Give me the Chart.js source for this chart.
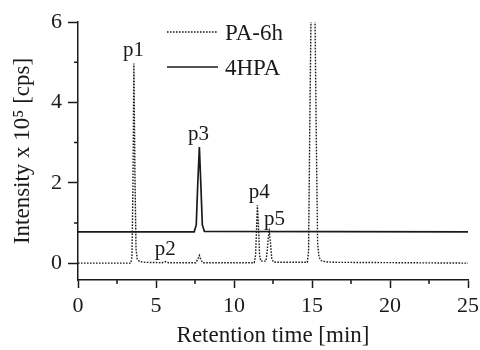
<!DOCTYPE html>
<html>
<head>
<meta charset="utf-8">
<script src="https://cdn.jsdelivr.net/npm/chart.js@4/dist/chart.umd.min.js"></script>
<style>
    body { margin: 0; background: #fff; }
    canvas { display: block; }
</style>
</head>
<body>
<canvas id="chromChart" width="480" height="350"></canvas>
<script>
// PA-6h trace (dotted)
let paTime = [0, 3.38, 3.46, 3.52, 3.58, 3.65, 3.72, 3.8, 3.95, 4.3, 5.4, 5.6, 5.8, 7.55, 7.68, 7.78, 7.88, 8.0,
    11.3, 11.38, 11.45, 11.5, 11.57, 11.64, 11.72, 12.05, 12.13, 12.2, 12.26, 12.34, 12.42, 12.52, 12.7,
    14.7, 14.78, 14.86, 14.95, 15.18, 15.28, 15.36, 15.45, 15.6, 15.9, 16.5, 25];
let paIntensity = [0, 0, 0.15, 1.8, 4.97, 2.2, 0.35, 0.1, 0.04, 0.02, 0.01, 0.04, 0.01, 0.01, 0.1, 0.19, 0.08, 0.01,
    0.01, 0.2, 0.9, 1.44, 0.9, 0.2, 0.05, 0.05, 0.3, 0.65, 0.78, 0.5, 0.12, 0.03, 0.02,
    0.02, 0.3, 3.5, 6.6, 6.6, 3.0, 0.5, 0.15, 0.06, 0.03, 0.02, 0];

// 4HPA trace (solid)
let hpaTime = [0, 7.45, 7.58, 7.68, 7.78, 7.88, 7.97, 8.1, 25];
let hpaIntensity = [0.78, 0.78, 0.95, 2.0, 2.89, 1.9, 0.95, 0.79, 0.78];

// peak labels
let peakNames = ['p1', 'p2', 'p3', 'p4', 'p5'];
let peakTimes = [3.55, 5.6, 7.72, 11.62, 12.6];
let peakHeights = [4.97, 0.04, 2.89, 1.44, 0.78];

// ticks
let xTicks = [0, 5, 10, 15, 20, 25];
let xMinorTicks = [2.5, 7.5, 12.5, 17.5, 22.5];
let yTicks = [0, 2, 4, 6];
let yMinorTicks = [1, 3, 5];

const FONT = "'Liberation Serif', 'Times New Roman', serif";
const INK = '#1a1a1a';


function toPoints(xs, ys) {
    let points = [];
    for (let i = 0; i < xs.length; i++) {
        points.push({ x: xs[i], y: ys[i] });
    }
    return points;
}


// small ticks between the labelled ones
const minorTicks = {
    id: 'minorTicks',
    afterDraw(chart) {
        let ctx = chart.ctx;
        let x = chart.scales.x;
        let y = chart.scales.y;

        ctx.save();
        ctx.strokeStyle = INK;
        ctx.lineWidth = 1.5;
        ctx.beginPath();
        xMinorTicks.forEach((v) => {
            let px = x.getPixelForValue(v);
            ctx.moveTo(px, x.top);
            ctx.lineTo(px, x.top + 4);
        });
        yMinorTicks.forEach((v) => {
            let py = y.getPixelForValue(v);
            ctx.moveTo(y.right, py);
            ctx.lineTo(y.right - 4, py);
        });
        ctx.stroke();
        ctx.restore();
    }
};


// p1..p5 written above each peak
const peakLabels = {
    id: 'peakLabels',
    afterDatasetsDraw(chart) {
        let ctx = chart.ctx;
        let x = chart.scales.x;
        let y = chart.scales.y;

        ctx.save();
        ctx.fillStyle = INK;
        ctx.font = '21px ' + FONT;
        ctx.textAlign = 'center';
        ctx.textBaseline = 'alphabetic';
        for (let i = 0; i < peakNames.length; i++) {
            ctx.fillText(peakNames[i], x.getPixelForValue(peakTimes[i]), y.getPixelForValue(peakHeights[i]) - 7);
        }
        ctx.restore();
    }
};


// legend inside the plot, top middle
const insideLegend = {
    id: 'insideLegend',
    afterDraw(chart) {
        let ctx = chart.ctx;
        let rows = [32, 67];

        ctx.save();
        ctx.font = '23px ' + FONT;
        ctx.textBaseline = 'alphabetic';
        ctx.fillStyle = INK;
        chart.data.datasets.forEach((ds, i) => {
            ctx.strokeStyle = ds.borderColor;
            ctx.lineWidth = ds.borderWidth;
            ctx.setLineDash(ds.borderDash || []);
            ctx.beginPath();
            ctx.moveTo(167, rows[i]);
            ctx.lineTo(218, rows[i]);
            ctx.stroke();
            ctx.fillText(ds.label, 225, rows[i] + 8);
        });
        ctx.restore();
    }
};


function createChart() {
    new Chart('chromChart', {
        type: 'line',
        data: {
            datasets: [{
                label: 'PA-6h',
                data: toPoints(paTime, paIntensity),
                borderColor: INK,
                borderWidth: 1.4,
                borderDash: [1.6, 1.4],
                pointRadius: 0,
                fill: false,
                clip: 0
            }, {
                label: '4HPA',
                data: toPoints(hpaTime, hpaIntensity),
                borderColor: INK,
                borderWidth: 1.7,
                pointRadius: 0,
                fill: false,
                clip: 0
            }]
        },
        options: {
            responsive: false,
            animation: false,
            devicePixelRatio: 1,
            layout: { padding: { top: 22, right: 12, left: 0, bottom: 0 } },
            plugins: {
                legend: { display: false },
                tooltip: { enabled: false }
            },
            scales: {
                x: {
                    type: 'linear',
                    min: 0,
                    max: 25,
                    afterBuildTicks: (scale) => { scale.ticks = xTicks.map((v) => ({ value: v })); },
                    afterFit: (scale) => {
                        scale.height = 70;
                        scale.paddingLeft = 0;
                        scale.paddingRight = 0;
                    },
                    grid: { drawOnChartArea: false, tickLength: 8, tickWidth: 1.5, tickColor: INK },
                    border: { display: true, width: 1.5, color: INK },
                    ticks: { color: INK, padding: 5, maxRotation: 0, font: { family: FONT, size: 22 } },
                    title: {
                        display: true,
                        text: 'Retention time [min]',
                        color: INK,
                        padding: { top: 0, bottom: 0 },
                        font: { family: FONT, size: 23 }
                    }
                },
                y: {
                    min: -0.42,
                    max: 6,
                    afterBuildTicks: (scale) => { scale.ticks = yTicks.map((v) => ({ value: v })); },
                    afterFit: (scale) => {
                        scale.width = 78;
                        scale.paddingTop = 0;
                        scale.paddingBottom = 0;
                    },
                    grid: { drawOnChartArea: false, tickLength: 10, tickWidth: 1.5, tickColor: INK },
                    border: { display: true, width: 1.5, color: INK },
                    ticks: { color: INK, padding: 6, font: { family: FONT, size: 22 } },
                    title: {
                        display: true,
                        text: 'Intensity x 10\u2075 [cps]',
                        color: INK,
                        padding: { top: 9, bottom: 0 },
                        font: { family: FONT, size: 23 }
                    }
                }
            }
        },
        plugins: [minorTicks, peakLabels, insideLegend]
    });
}


createChart();
</script>
</body>
</html>
